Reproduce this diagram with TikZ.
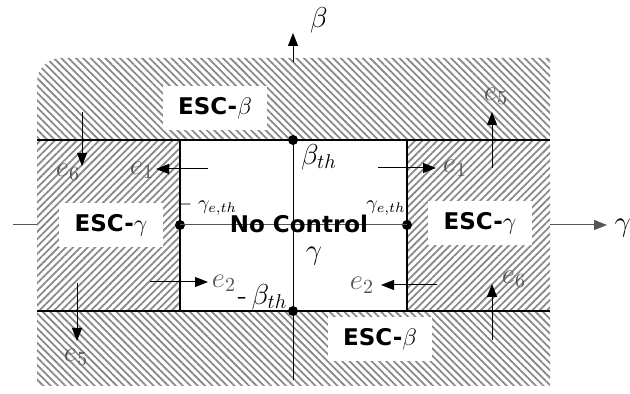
\documentclass[tikz,border=0pt]{standalone}
\usepackage{fontspec}
\newfontfamily\escfont{DejaVu Sans}
\usetikzlibrary{arrows.meta, patterns.meta}
\definecolor{hgrey}{HTML}{8A8A8A}
\definecolor{lgrey}{HTML}{555555}
\tikzset{
  every picture/.style={x=0.5pt, y=-0.5pt, line width=0.6pt},
  band/.style={pattern={Lines[angle=-45, distance=2.6pt, line width=0.9pt]}, pattern color=hgrey},
  side/.style={pattern={Lines[angle=45, distance=2.6pt, line width=0.9pt]}, pattern color=hgrey},
  esc/.style={fill=white, font=\escfont\bfseries\fontsize{11.5}{14}\selectfont, minimum width=52pt, minimum height=22pt, inner sep=1pt},
  arrow/.style={-{Triangle[length=6.5pt, width=5pt]}, line width=0.5pt},
  dot/.style={circle, fill=black, inner sep=0pt, minimum size=5pt},
  elabel/.style={text=lgrey, font=\Large, inner sep=1pt},
  thr/.style={font=\Large, inner sep=1pt},
}
\newcommand{\evec}[5]{
  \coordinate (#1a) at (#2);
  \coordinate (#1b) at (#3);
  \draw[arrow] (#1a) -- (#1b);
  \node[elabel] (#1) at (#4) {$e_{#5}$};
}

\begin{document}
\begin{tikzpicture}
  \useasboundingbox (0,0) rectangle (630,394);
  % hatched zones
  \path[band] (37,140) [rounded corners=12pt] -- (37,58) [sharp corners] -- (550,58) -- (550,140) -- cycle;
  \path[band] (37,311) rectangle (550,385);
  \path[side] (37,140) rectangle (180,311);
  \path[side] (407,140) rectangle (550,311);
  % boundaries
  \draw[line width=0.7pt] (37,140) -- (550,140) (37,311) -- (550,311);
  \draw[line width=0.7pt] (180,140) -- (180,311) (407,140) -- (407,311);
  % zone names
  \node[esc] (escbtop) at (215,108) {ESC-$\beta$};
  \node[esc] (escbbot) at (380,339) {ESC-$\beta$};
  \node[esc] (escgl) at (111,225) {ESC-$\gamma$};
  \node[esc] (escgr) at (480,223) {ESC-$\gamma$};
  % threshold points
  \node[dot] (btop) at (293,140) {};
  \node[dot] (bbot) at (293,311) {};
  \node[dot] (gl) at (180,225) {};
  \node[dot] (gr) at (407,225) {};
  % axes
  \coordinate (bfoot) at (293,380);
  \coordinate (bstart) at (293,62);
  \coordinate (btip) at (293,33);
  \draw[line width=0.5pt] (bfoot) -- (btop.center);
  \draw[arrow] (bstart) -- (btip);
  \node[font=\Large] (blab) at (319,20) {$\beta$};
  \coordinate (gfoot) at (13,225);
  \coordinate (gleft) at (37,225);
  \coordinate (gstart) at (550,225);
  \coordinate (gtip) at (607,225);
  \draw[lgrey, line width=0.5pt] (gfoot) -- (gleft) (gl.center) -- (gr.center);
  \draw[arrow, lgrey] (gstart) -- (gtip);
  \node[font=\Large, anchor=west, inner sep=0pt] (glab) at (614,228) {$\gamma_e$};
  % thresholds
  \node[thr] (bth) at (319,157) {$\beta_{th}$};
  \node[thr, anchor=east] (mbth) at (290,297) {-\,$\beta_{th}$};
  \node[inner sep=1pt] (mgth) at (207,207) {$-\;\gamma_{e,th}$};
  \node[inner sep=1pt] (gth) at (386,208) {$\gamma_{e,th}$};
  \node[font=\escfont\bfseries\fontsize{11.5}{14}\selectfont, inner sep=0pt] (nocon) at (299,224) {No Control};
  \node[thr] (gam) at (314,256) {$\gamma$};
  % error vectors
  \evec{e6t}{82,112}{82,166}{68,172}{6}
  \evec{e1l}{208,169}{156,169}{142,170}{1}
  \evec{e1r}{378,168}{436,168}{455,168}{1}
  \evec{e5t}{492,168}{492,112}{496,96}{5}
  \evec{e2l}{150,282}{208,282}{224,283}{2}
  \evec{e2r}{437,285}{381,285}{362,285}{2}
  \evec{e5b}{77,283}{77,341}{76,357}{5}
  \evec{e6b}{492,340}{492,284}{514,279}{6}
\end{tikzpicture}
\end{document}
